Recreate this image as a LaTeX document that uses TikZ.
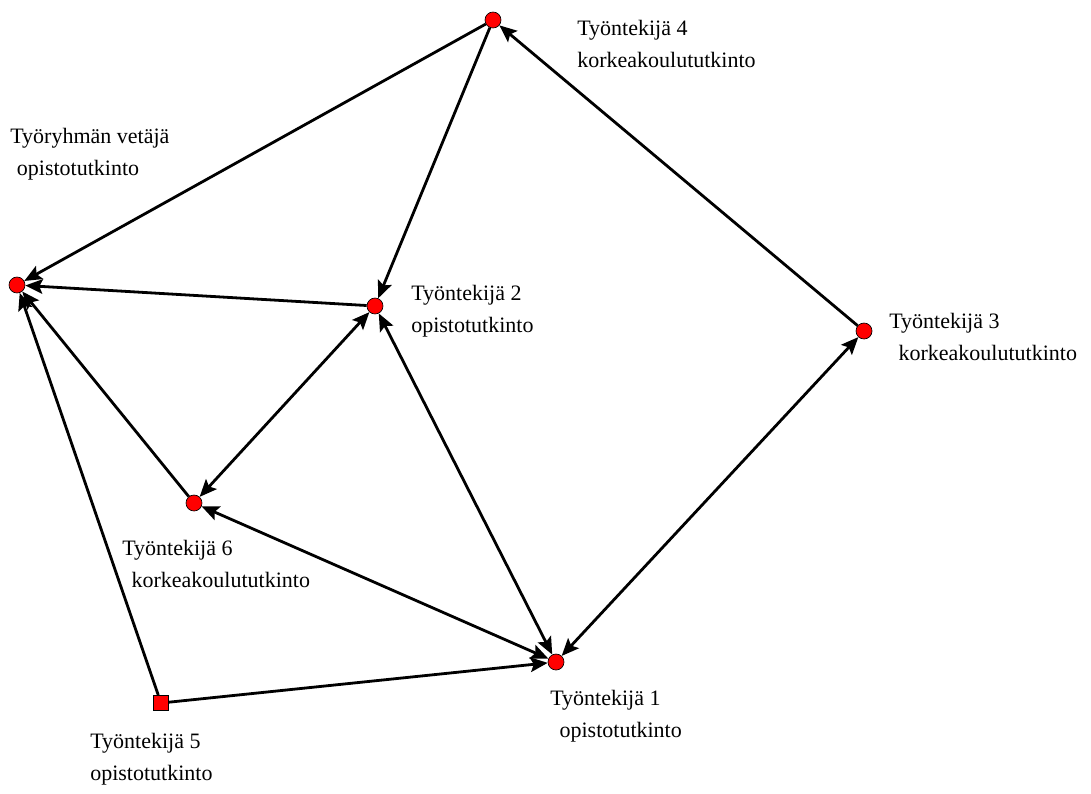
\documentclass[tikz,border=0pt]{standalone}
\usepackage{fontspec}
\setmainfont{Liberation Serif}
\usetikzlibrary{arrows.meta}

\tikzset{
  henkilo/.style={circle,draw=black,line width=0.5pt,fill=red,minimum size=12pt,inner sep=0pt},
  henkiloneliö/.style={rectangle,draw=black,line width=0.5pt,fill=red,minimum size=11.5pt,inner sep=0pt},
  nimi/.style={anchor=north west,align=left,inner sep=0pt,font=\fontsize{16.5}{24}\selectfont},
  suhde/.style={line width=2.1pt,-{Stealth[length=13pt,width=11pt,inset=2.5pt]}},
  molemmat/.style={line width=2.1pt,{Stealth[length=13pt,width=11pt,inset=2.5pt]}-{Stealth[length=13pt,width=11pt,inset=2.5pt]}}
}

\begin{document}
\begin{tikzpicture}[x=0.75pt,y=0.75pt,yscale=-1,xscale=1]
\useasboundingbox (0,0) rectangle (1091,793);

%Nodes
\node [henkilo] (vetaja) at (17,285) {};
\node [henkilo] (t4) at (493,20) {};
\node [henkilo] (t2) at (375,306) {};
\node [henkilo] (t3) at (864,331) {};
\node [henkilo] (t6) at (194,503) {};
\node [henkilo] (t1) at (556,662) {};
\node [henkiloneliö] (t5) at (161,703) {};

%Connectors
\draw [suhde] (t4) -- (vetaja);
\draw [suhde] (t4) -- (t2);
\draw [suhde] (t3) -- (t4);
\draw [suhde] (t2) -- (vetaja);
\draw [suhde] (t6) -- (vetaja);
\draw [suhde] (t5) -- (vetaja);
\draw [suhde] (t5) -- (t1);
\draw [molemmat] (t2) -- (t6);
\draw [molemmat] (t6) -- (t1);
\draw [molemmat] (t2) -- (t1);
\draw [molemmat] (t3) -- (t1);

% Text Node
\node [nimi] (vetajalab) at (10,128) {Työryhmän vetäjä\\\hspace*{5pt}opistotutkinto};
% Text Node
\node [nimi] (t4lab) at (577,20) {Työntekijä 4\\korkeakoulututkinto};
% Text Node
\node [nimi] (t2lab) at (411,285) {Työntekijä 2\\opistotutkinto};
% Text Node
\node [nimi] (t3lab) at (889,313) {Työntekijä 3\\\hspace*{7pt}korkeakoulututkinto};
% Text Node
\node [nimi] (t6lab) at (122,540) {Työntekijä 6\\\hspace*{7pt}korkeakoulututkinto};
% Text Node
\node [nimi] (t1lab) at (550,690) {Työntekijä 1\\\hspace*{7pt}opistotutkinto};
% Text Node
\node [nimi] (t5lab) at (90,733) {Työntekijä 5\\opistotutkinto};

\end{tikzpicture}
\end{document}
